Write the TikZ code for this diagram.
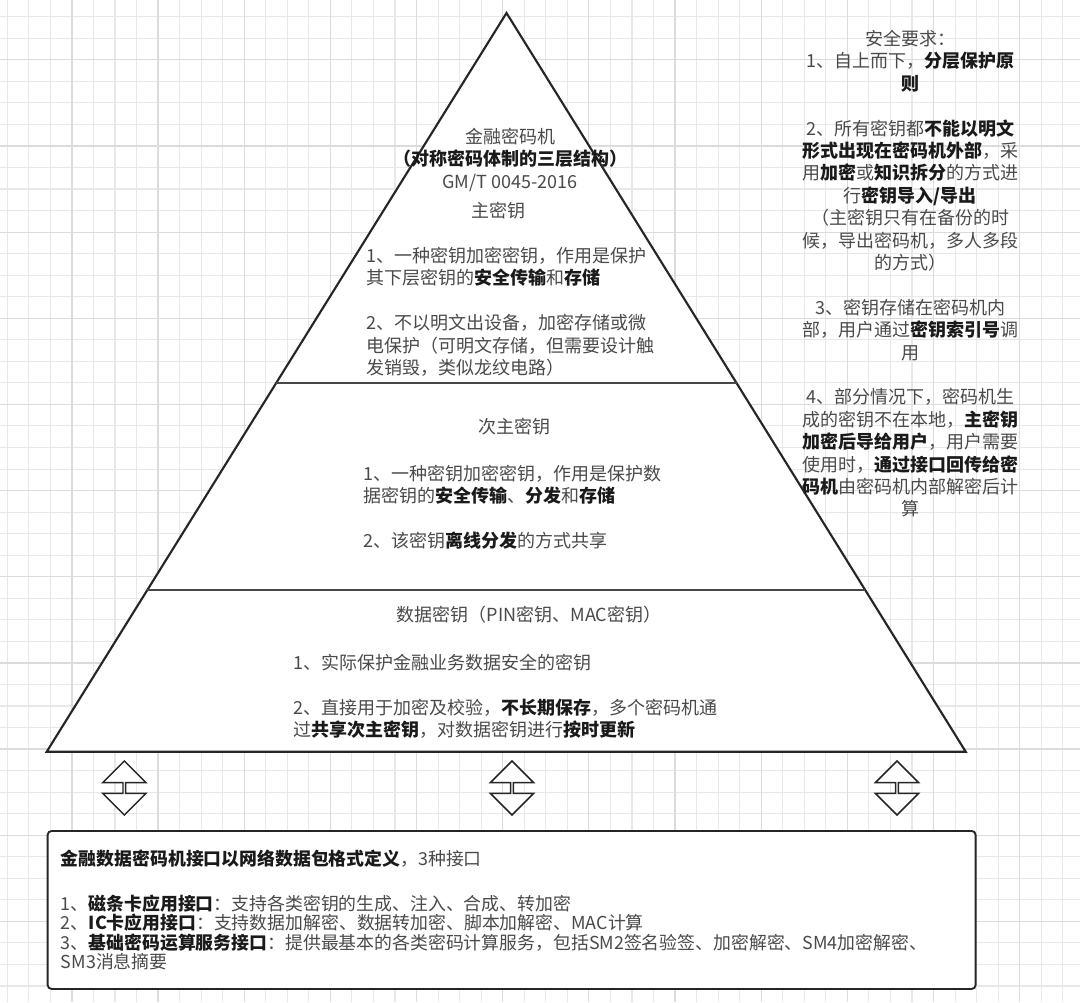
\documentclass[tikz,border=0pt]{standalone}
\usepackage{fontspec}
\setmainfont{Noto Sans CJK SC}
\usetikzlibrary{shapes.arrows, calc}
\definecolor{gridminor}{HTML}{E8E8E8}
\definecolor{gridmajor}{HTML}{DCDCDC}
\definecolor{inkline}{HTML}{262626}
\definecolor{bodytxt}{HTML}{4A4A4A}
\definecolor{strongtxt}{HTML}{1A1A1A}
\newcommand{\kbold}[1]{{\bfseries\color{strongtxt}#1}}
\tikzset{
	tribody/.style={draw=inkline, line width=1.6pt, fill=white, line join=miter},
	layerline/.style={draw=inkline!85, line width=1.3pt},
	bodytext/.style={text=bodytxt, inner sep=0pt, font=\fontsize{13.5pt}{16.8pt}\selectfont},
	itemtext/.style={bodytext, align=left, anchor=north west},
	capttext/.style={bodytext, align=center, anchor=north},
	flowarr/.style={double arrow, shape border rotate=90, draw=inkline, fill=white,
		line width=1.1pt, inner sep=0pt, minimum height=40.5pt, minimum width=32.5pt,
		double arrow head extend=8.6pt},
	ifacebox/.style={draw=inkline, line width=1.4pt, fill=white, rounded corners=3pt,
		text=bodytxt, align=left, inner xsep=10pt, text width=676pt,
		minimum height=118.5pt, font=\fontsize{13.4pt}{14.4pt}\selectfont}
}

\begin{document}
\begin{tikzpicture}[x=0.75pt, y=-0.75pt]
	\useasboundingbox (0,0) rectangle (1080,1002);
	% background grid
	\fill[white] (0,0) rectangle (1080,1002);
	\foreach \i in {0,...,49}
		\draw[gridminor, line width=0.8pt] ({7.3+21.54*\i},0) -- ({7.3+21.54*\i},1002);
	\foreach \i in {0,...,45}
		\draw[gridminor, line width=0.8pt] (0,{16.7+21.54*\i}) -- (1080,{16.7+21.54*\i});
	\foreach \i in {3,7,...,47}
		\draw[gridmajor, line width=0.9pt] ({7.3+21.54*\i},0) -- ({7.3+21.54*\i},1002);
	\foreach \i in {2,6,...,42}
		\draw[gridmajor, line width=0.9pt] (0,{16.7+21.54*\i}) -- (1080,{16.7+21.54*\i});

	% pyramid
	\coordinate (apex) at (506.5,13);
	\coordinate (baseL) at (46.7,751.7);
	\coordinate (baseR) at (965.7,751.7);
	\coordinate (cutAL) at ($(apex)!0.5013!(baseL)$);
	\coordinate (cutAR) at ($(apex)!0.5013!(baseR)$);
	\coordinate (cutBL) at ($(apex)!0.7811!(baseL)$);
	\coordinate (cutBR) at ($(apex)!0.7811!(baseR)$);
	\draw[tribody] (apex) -- (baseL) -- (baseR) -- cycle;
	\draw[layerline] (cutAL) -- (cutAR);
	\draw[layerline] (cutBL) -- (cutBR);

	% top layer
	\node[capttext] (title) at (510,128) {金融密码机\\\kbold{（对称密码体制的三层结构）}\\GM/T 0045-2016};
	\node[bodytext] (mkey) at (498,211) {主密钥};
	\node[itemtext] (mkeyitems) at (366,247) {1、一种密钥加密密钥，作用是保护\\
		其下层密钥的\kbold{安全传输}和\kbold{存储}\\[16.8pt]
		2、不以明文出设备，加密存储或微\\
		电保护（可明文存储，但需要设计触\\
		发销毁，类似龙纹电路）};

	% middle layer
	\node[bodytext] (skey) at (514,427) {次主密钥};
	\node[itemtext] (skeyitems) at (363,465) {1、一种密钥加密密钥，作用是保护数\\
		据密钥的\kbold{安全传输}、\kbold{分发}和\kbold{存储}\\[16.8pt]
		2、该密钥\kbold{离线分发}的方式共享};

	% bottom layer
	\node[bodytext] (dkey) at (529,615) {数据密钥（PIN密钥、MAC密钥）};
	\node[itemtext] (dkeyitems) at (293,654) {1、实际保护金融业务数据安全的密钥\\[16.8pt]
		2、直接用于加密及校验，\kbold{不长期保存}，多个密码机通\\
		过\kbold{共享次主密钥}，对数据密钥进行\kbold{按时更新}};

	% security requirements
	\node[capttext] (secreq) at (910,30) {安全要求：\\
		1、自上而下，\kbold{分层保护原}\\
		\kbold{则}\\[16.8pt]
		2、所有密钥都\kbold{不能以明文}\\
		\kbold{形式出现在密码机外部}，采\\
		用\kbold{加密}或\kbold{知识拆分}的方式进\\
		行\kbold{密钥导入/导出}\\
		（主密钥只有在备份的时\\
		候，导出密码机，多人多段\\
		的方式）\\[16.8pt]
		3、密钥存储在密码机内\\
		部，用户通过\kbold{密钥索引号}调\\
		用\\[16.8pt]
		4、部分情况下，密码机生\\
		成的密钥不在本地，\kbold{主密钥}\\
		\kbold{加密后导给用户}，用户需要\\
		使用时，\kbold{通过接口回传给密}\\
		\kbold{码机}由密码机内部解密后计\\
		算};

	% arrows between pyramid and interface box
	\node[flowarr] (arrL) at (124.3,788) {};
	\node[flowarr] (arrM) at (512,788) {};
	\node[flowarr] (arrR) at (897,788) {};

	% interface box
	\node[ifacebox, anchor=north west] (iface) at (46.7,830) {\kbold{金融数据密码机接口以网络数据包格式定义}，3种接口\\[19.3pt]
		1、\kbold{磁条卡应用接口}：支持各类密钥的生成、注入、合成、转加密\\
		2、\kbold{IC卡应用接口}：支持数据加解密、数据转加密、脚本加解密、MAC计算\\
		3、\kbold{基础密码运算服务接口}：提供最基本的各类密码计算服务，包括SM2签名验签、加密解密、SM4加密解密、\\
		SM3消息摘要};
\end{tikzpicture}
\end{document}
